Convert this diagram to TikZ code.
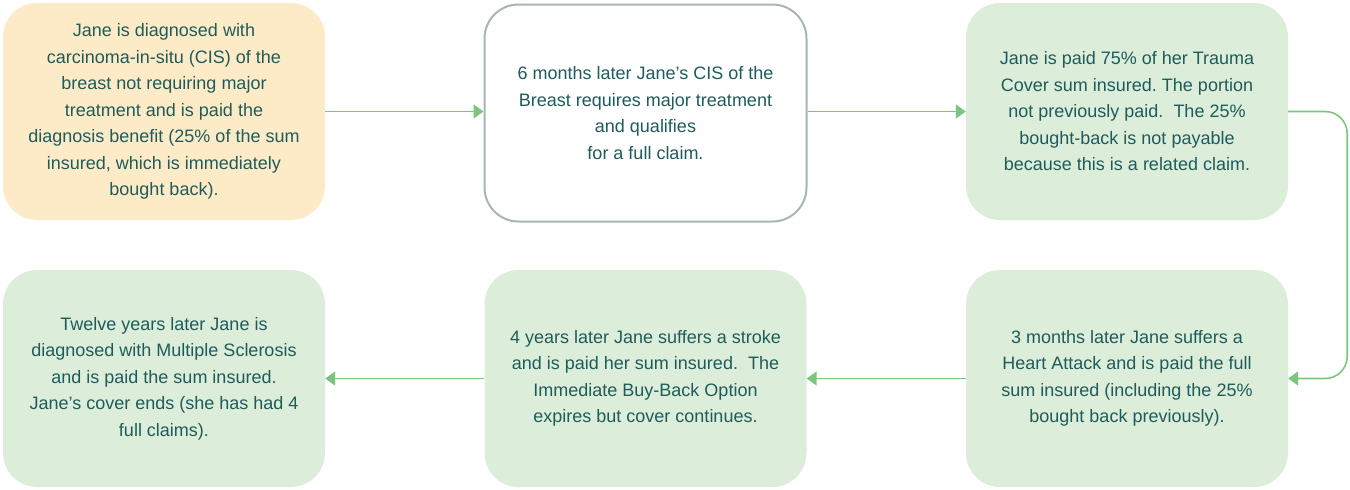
\documentclass[tikz,border=0pt]{standalone}
\usepackage{fontspec}
\setmainfont{Liberation Sans}
\frenchspacing
\usetikzlibrary{arrows.meta, positioning}
\definecolor{txtteal}{HTML}{1E5C5C}
\definecolor{boxcream}{HTML}{FDEBC7}
\definecolor{boxgreen}{HTML}{DCEDDA}
\definecolor{boxgrey}{HTML}{A8B4B8}
\definecolor{arrgreen}{HTML}{7CC57E}
\tikzset{
  stage/.style={rounded corners=34pt, minimum width=322pt, minimum height=217pt, inner sep=0pt,
    align=center, text=txtteal, font=\fontsize{18}{26.5}\selectfont},
  flow/.style={draw=arrgreen, line width=1.6pt, -{Triangle[length=10pt,width=14pt]}}
}
\begin{document}
\begin{tikzpicture}[x=1pt, y=-1pt]
	\useasboundingbox (0,0) rectangle (1350,490);
	% top row
	\node[stage, fill=boxcream] (diag) at (164,111.5) {Jane is diagnosed with\\carcinoma-in-situ (CIS) of the\\breast not requiring major\\treatment and is paid the\\diagnosis benefit (25\% of the sum\\insured, which is immediately\\bought back).};
	\node[stage, fill=white, draw=boxgrey, line width=2pt] (cis) at (645.5,113) {6 months later Jane’s CIS of the\\Breast requires major treatment\\and qualifies\\for a full claim.};
	\node[stage, fill=boxgreen] (trauma) at (1127,111.5) {Jane is paid 75\% of her Trauma\\Cover sum insured. The portion\\not previously paid.\ \ The 25\%\\bought-back is not payable\\because this is a related claim.};
	% bottom row
	\node[stage, fill=boxgreen] (heart) at (1127,378.5) {3 months later Jane suffers a\\Heart Attack and is paid the full\\sum insured (including the 25\%\\bought back previously).};
	\node[stage, fill=boxgreen] (stroke) at (645.5,378.5) {4 years later Jane suffers a stroke\\and is paid her sum insured.\ \ The\\Immediate Buy-Back Option\\expires but cover continues.};
	\node[stage, fill=boxgreen] (ms) at (164,378.5) {Twelve years later Jane is\\diagnosed with Multiple Sclerosis\\and is paid the sum insured.\\Jane’s cover ends (she has had 4\\full claims).};
	% connectors
	\draw[flow] (diag.east) -- (diag.east -| cis.west);
	\draw[flow] (cis.east |- trauma.west) -- (trauma.west);
	\draw[flow, rounded corners=22pt] (trauma.east) -- ++(59,0) |- (heart.east);
	\draw[flow] (heart.west) -- (stroke.east);
	\draw[flow] (stroke.west) -- (ms.east);
\end{tikzpicture}
\end{document}
